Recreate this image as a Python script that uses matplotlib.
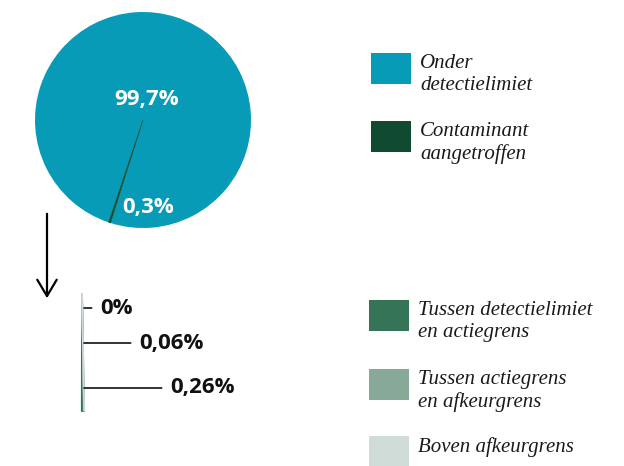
import matplotlib.pyplot as plt
from matplotlib.patches import Rectangle

# data
main_labels = ['Onder\ndetectielimiet', 'Contaminant\naangetroffen']
main_values = [99.7, 0.3]
main_text = ['99,7%', '0,3%']
main_colors = ['#079bb7', '#0f4a31']

sub_labels = ['Tussen detectielimiet\nen actiegrens', 'Tussen actiegrens\nen afkeurgrens', 'Boven afkeurgrens']
sub_values = [0.26, 0.06, 0.0]
sub_text = ['0,26%', '0,06%', '0%']
sub_colors = ['#357456', '#88a898', '#cfdcd7']

W, H = 624, 466
fig = plt.figure(figsize=(W / 100, H / 100), dpi=100)
ax = fig.add_axes([0, 0, 1, 1])

# main pie (y up, pixel units)
mw, _ = ax.pie(main_values, colors=main_colors, startangle=252.5, center=(143, H - 120),
               radius=108, wedgeprops=dict(linewidth=0))
mw[1].set_edgecolor(main_colors[1])
mw[1].set_linewidth(0.4)
lab_font = dict(family=['Open Sans', 'DejaVu Sans'], fontsize=16, fontweight='bold')
ax.text(147, H - 100, main_text[0], color='white', ha='center', va='center', **lab_font)
ax.text(148, H - 207, main_text[1], color='white', ha='center', va='center', **lab_font)

# zoomed sliver of the contaminated part
rest = 100 - sum(sub_values)
wedges, _ = ax.pie(sub_values + [rest], colors=sub_colors + ['white'], startangle=269.9,
                   center=(82, H - 293), radius=118, wedgeprops=dict(linewidth=1.3))
for w in wedges:
    w.set_edgecolor(w.get_facecolor())
wedges[-1].set_visible(False)

# leader lines + labels
ends = [(170, 388), (139, 343), (100, 308)]
for txt, (tx, ty) in zip(sub_text, ends):
    ax.annotate(txt, xy=(84, H - ty), xytext=(tx, H - ty), ha='left', va='center',
                color='#111111', **lab_font,
                arrowprops=dict(arrowstyle='-', lw=1.2, color='#111111', shrinkA=4, shrinkB=0))

# down arrow
ax.annotate('', xy=(47, H - 301), xytext=(47, H - 211),
            arrowprops=dict(arrowstyle='->,head_length=0.42,head_width=0.25',
                            lw=1.6, color='black', mutation_scale=28))

# legend
leg_font = dict(family=['Liberation Serif', 'DejaVu Serif'], style='italic',
                fontsize=15, color='#1a1a1a', linespacing=1.2)
for lab, col, y0 in zip(main_labels, main_colors, [53, 121]):
    ax.add_patch(Rectangle((371, H - y0 - 31), 40, 31, color=col, lw=0))
    ax.text(420, H - y0 - 1, lab, va='top', ha='left', **leg_font)
for lab, col, y0 in zip(sub_labels, sub_colors, [300, 369, 436]):
    ax.add_patch(Rectangle((369, H - y0 - 31), 40, 31, color=col, lw=0))
    ax.text(418, H - y0 - 1, lab, va='top', ha='left', **leg_font)

ax.set_xlim(0, W)
ax.set_ylim(0, H)
ax.set_aspect('auto')
ax.axis('off')

fig.savefig('out.png', dpi=100)
